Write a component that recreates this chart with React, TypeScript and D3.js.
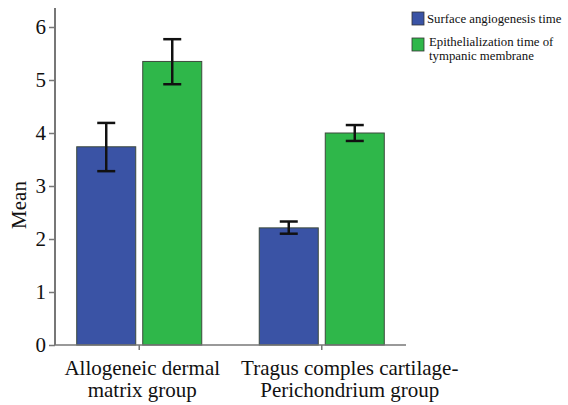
import React, { useEffect, useRef } from 'react';
import * as d3 from 'd3';

const groups = ['Allogeneic dermal matrix group', 'Tragus comples cartilage-Perichondrium group'];
const groupLines = [
  ['Allogeneic dermal', 'matrix group'],
  ['Tragus comples cartilage-', 'Perichondrium group'],
];
const seriesNames = ['Surface angiogenesis time', 'Epithelialization time of tympanic membrane'];
const legendLines = [['Surface angiogenesis time'], ['Epithelialization time of', 'tympanic membrane']];
const colors = ['#3a53a5', '#2fb74a'];
const means = [
  [3.74, 2.21],
  [5.35, 4.0],
];
const errLow = [
  [3.28, 2.1],
  [4.92, 3.85],
];
const errHigh = [
  [4.19, 2.33],
  [5.77, 4.15],
];
const yTicks = [0, 1, 2, 3, 4, 5, 6];

const App = () => {
  const svgRef = useRef<SVGSVGElement>(null);

  useEffect(() => {
    const w = 568;
    const h = 405;
    const svg = d3.select(svgRef.current).attr('width', w).attr('height', h);
    svg.selectAll('*').remove();
    const font = "'Liberation Serif', 'Times New Roman', serif";

    const left = 55;
    const right = 406;
    const y = d3.scaleLinear().domain([0, 6]).range([345, 27]);
    const x0 = d3.scaleBand().domain(groups).range([left, right]).paddingInner(0.315).paddingOuter(0.119);
    const x1 = d3.scaleBand().domain(seriesNames).range([0, x0.bandwidth()]).paddingInner(0.106);

    // bars
    seriesNames.forEach((s, si) => {
      groups.forEach((g, gi) => {
        const bx = x0(g)! + x1(s)!;
        const bw = x1.bandwidth();
        svg.append('rect')
          .attr('x', bx)
          .attr('y', y(means[si][gi]))
          .attr('width', bw)
          .attr('height', y(0) - y(means[si][gi]))
          .attr('fill', colors[si])
          .attr('stroke', '#3d4a3d')
          .attr('stroke-width', 1);

        const cx = bx + bw / 2;
        const cap = 9;
        const eb = svg.append('g').attr('stroke', '#111').attr('stroke-width', 2.5);
        eb.append('line').attr('x1', cx).attr('x2', cx).attr('y1', y(errLow[si][gi])).attr('y2', y(errHigh[si][gi]));
        eb.append('line').attr('x1', cx - cap).attr('x2', cx + cap).attr('y1', y(errHigh[si][gi])).attr('y2', y(errHigh[si][gi]));
        eb.append('line').attr('x1', cx - cap).attr('x2', cx + cap).attr('y1', y(errLow[si][gi])).attr('y2', y(errLow[si][gi]));
      });
    });

    // y axis
    const yAxis = d3.axisLeft(y).tickValues(yTicks).tickSize(6).tickSizeOuter(0).tickFormat(d3.format('d'));
    const gy = svg.append('g').attr('transform', `translate(${left},0)`).call(yAxis).attr('font-family', null);
    gy.select('.domain').attr('d', `M0,8V${y(0)}`).attr('stroke', '#777').attr('stroke-width', 2);
    gy.selectAll('.tick line').attr('stroke', '#777').attr('stroke-width', 1.5);
    gy.selectAll('.tick text').style('font-family', font).style('font-size', '21px').attr('fill', '#111').attr('x', -9);

    // x axis
    const gx = svg.append('g').attr('transform', `translate(0,${y(0)})`);
    gx.append('line').attr('x1', left).attr('x2', right).attr('stroke', '#777').attr('stroke-width', 1.5);
    groups.forEach((g, gi) => {
      const cx = x0(g)! + x0.bandwidth() / 2;
      gx.append('line').attr('x1', cx).attr('x2', cx).attr('y1', 0).attr('y2', 5).attr('stroke', '#777').attr('stroke-width', 1.5);
      const labelShift = gi === 0 ? 3 : 28;
      groupLines[gi].forEach((t, li) => {
        gx.append('text')
          .attr('x', cx + labelShift)
          .attr('y', 30 + li * 22)
          .attr('text-anchor', 'middle')
          .style('font-family', font)
          .style('font-size', '21px')
          .attr('fill', '#111')
          .text(t);
      });
    });

    // y label
    svg.append('text')
      .attr('transform', 'rotate(-90)')
      .attr('x', -205)
      .attr('y', 26)
      .attr('text-anchor', 'middle')
      .style('font-family', font)
      .style('font-size', '21px')
      .attr('fill', '#111')
      .text('Mean');

    // legend
    const lg = svg.append('g').attr('transform', 'translate(412,12)');
    legendLines.forEach((lines, i) => {
      const oy = i * 26;
      lg.append('rect').attr('x', 0).attr('y', oy).attr('width', 12).attr('height', 13)
        .attr('fill', colors[i]).attr('stroke', '#333').attr('stroke-width', 0.8);
      lines.forEach((t, li) => {
        lg.append('text')
          .attr('x', i === 0 ? 15 : 17)
          .attr('y', oy + (lines.length > 1 ? 8 : 11) + li * 14)
          .style('font-family', font)
          .style('font-size', '12.8px')
          .attr('fill', '#111')
          .text(t);
      });
    });
  }, []);

  return <svg ref={svgRef} style={{ display: 'block', position: 'absolute', left: 0, top: 0 }}></svg>;
};

export default App;
